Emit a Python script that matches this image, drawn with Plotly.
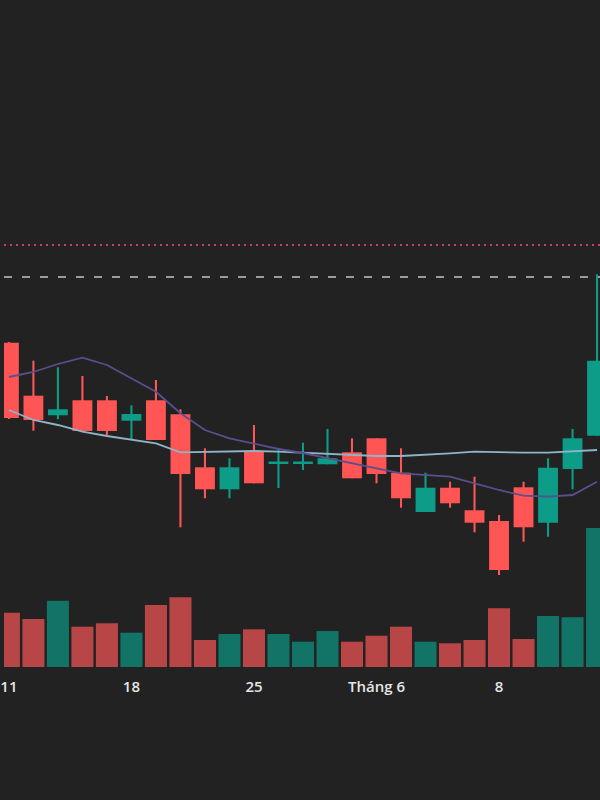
import plotly.graph_objects as go

dates = ["2020-05-11", "2020-05-12", "2020-05-13", "2020-05-14", "2020-05-15",
         "2020-05-18", "2020-05-19", "2020-05-20", "2020-05-21", "2020-05-22",
         "2020-05-25", "2020-05-26", "2020-05-27", "2020-05-28", "2020-05-29",
         "2020-06-01", "2020-06-02", "2020-06-03", "2020-06-04", "2020-06-05",
         "2020-06-08", "2020-06-09", "2020-06-10", "2020-06-11", "2020-06-12"]

open_ = [35.73, 30.43, 28.47, 29.97, 29.97, 27.93, 29.97, 28.57, 23.27, 21.07,
         24.83, 23.60, 23.60, 23.57, 24.77, 26.17, 22.73, 18.80, 21.23, 18.97,
         17.90, 21.27, 17.73, 23.10, 26.43]
high = [35.80, 33.93, 33.27, 32.40, 30.40, 29.47, 32.00, 29.07, 25.17, 24.17,
        27.50, 25.20, 25.73, 27.10, 26.17, 26.17, 25.17, 22.73, 21.83, 22.33,
        18.50, 21.83, 24.17, 27.10, 42.57]
low = [28.10, 26.93, 28.07, 26.90, 26.47, 26.00, 26.00, 17.27, 20.17, 20.17,
       21.67, 21.20, 23.00, 23.57, 22.17, 21.67, 19.23, 18.80, 19.23, 16.77,
       12.50, 15.83, 16.33, 21.07, 26.43]
close = [28.20, 28.00, 29.07, 26.90, 26.90, 28.60, 26.00, 22.60, 21.07, 23.27,
         21.67, 23.80, 23.80, 24.17, 22.17, 22.60, 20.17, 21.23, 19.67, 17.73,
         13.00, 17.27, 23.23, 26.17, 33.93]

volume = [543, 480, 663, 403, 437, 343, 620, 697, 270, 330,
          377, 330, 253, 360, 253, 313, 403, 253, 237, 270,
          587, 280, 510, 497, 1390]

ma_short = [32.30, 32.80, 33.60, 34.23, 33.50, 32.20, 30.83, 28.67, 27.00, 26.17,
            25.67, 25.10, 24.70, 24.17, 23.67, 23.17, 22.67, 22.50, 22.33, 21.67,
            21.00, 20.43, 20.33, 20.50, 21.83]
ma_long = [29.00, 28.00, 27.50, 26.83, 26.40, 26.00, 25.67, 24.77, 24.83, 24.90,
           24.90, 24.83, 24.73, 24.60, 24.50, 24.40, 24.40, 24.50, 24.67, 24.83,
           24.77, 24.73, 24.73, 24.83, 25.00]

ceiling_price = 45.5
high_price_line = 42.3

tick_dates = ["2020-05-11", "2020-05-18", "2020-05-25", "2020-06-01", "2020-06-08"]
tick_labels = ["11", "18", "25", "Tháng 6", "8"]

UP = "#0d9c88"
DOWN = "#ff5555"
UP_VOL = "#127466"
DOWN_VOL = "#b84646"
BG = "#222222"

up = [c >= o for o, c in zip(open_, close)]
candle_col = [UP if u else DOWN for u in up]
vol_col = [UP_VOL if u else DOWN_VOL for u in up]

body_base = [min(o, c) for o, c in zip(open_, close)]
body_h = [max(abs(c - o), 0.25) for o, c in zip(open_, close)]
wick_h = [h - l for h, l in zip(high, low)]

fig = go.Figure()

fig.add_trace(go.Bar(x=dates, y=volume, marker=dict(color=vol_col, line=dict(width=0)),
                     width=0.9, yaxis="y2", hoverinfo="skip", showlegend=False))

fig.add_trace(go.Bar(x=dates, y=wick_h, base=low, width=0.085,
                     marker=dict(color=candle_col, line=dict(width=0)),
                     showlegend=False, hoverinfo="skip"))
fig.add_trace(go.Bar(x=dates, y=body_h, base=body_base, width=0.81,
                     marker=dict(color=candle_col, line=dict(width=0)),
                     showlegend=False))

fig.add_trace(go.Scatter(x=dates, y=ma_long, mode="lines",
                         line=dict(color="#8fb4c9", width=1.8), showlegend=False))
fig.add_trace(go.Scatter(x=dates, y=ma_short, mode="lines",
                         line=dict(color="#5a4f8e", width=1.8), showlegend=False))

fig.add_hline(y=ceiling_price, line=dict(color="#c8455c", width=2, dash="2px,4px"))
fig.add_hline(y=high_price_line, line=dict(color="#9c9c9c", width=2, dash="8px,10px"))

fig.update_layout(
    width=600, height=800,
    margin=dict(l=0, r=0, t=0, b=133),
    paper_bgcolor=BG, plot_bgcolor=BG,
    barmode="overlay",
    showlegend=False,
    xaxis=dict(type="category", range=[-0.2, 24.12], showgrid=False, zeroline=False,
               showline=False, tickmode="array", tickvals=tick_dates, ticktext=tick_labels,
               tickfont=dict(family="Open Sans", size=15, color="#e6e6e6", weight=600),
               ticks="", ticklabelstandoff=9),
    yaxis=dict(range=[3.3, 70], showgrid=False, zeroline=False, showticklabels=False,
               showline=False),
    yaxis2=dict(range=[0, 6670], overlaying="y", showgrid=False, zeroline=False,
                showticklabels=False, showline=False),
)

fig.write_html("out.html")
